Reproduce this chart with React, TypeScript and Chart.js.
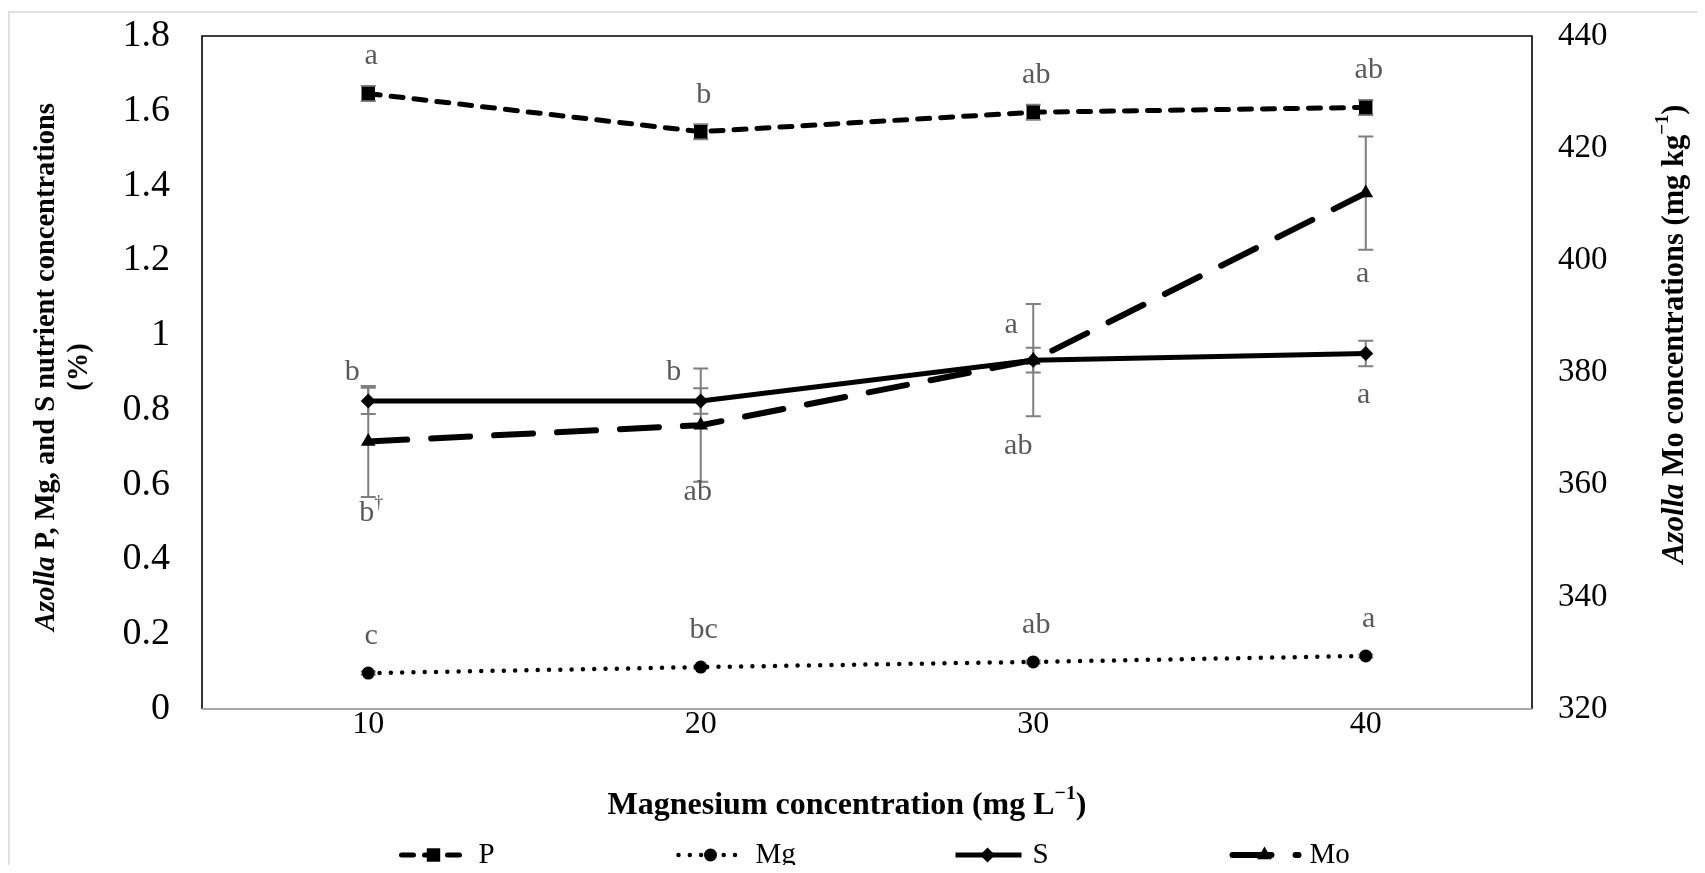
import React, { useEffect, useRef } from 'react';
import { Chart, registerables } from 'chart.js';

Chart.register(...registerables);

const FONT = "'Liberation Serif', 'Times New Roman', Times, serif";

// Mg supply levels (mg L-1)
const magnesiumLevels = ['10', '20', '30', '40'];

// Azolla tissue concentrations (%) and their standard errors
const phosphorus = [1.646, 1.544, 1.596, 1.609];
const phosphorusSe = [0.02, 0.02, 0.02, 0.02];
const magnesium = [0.096, 0.112, 0.126, 0.142];
const magnesiumSe = [0.004, 0.004, 0.004, 0.004];
const sulfur = [0.824, 0.824, 0.933, 0.951];
const sulfurSe = [0.035, 0.034, 0.033, 0.034];

// Azolla Mo concentration (mg kg-1) and standard errors
const molybdenum = [367.7, 370.6, 382.2, 412.0];
const molybdenumSe = [9.9, 10.1, 10.0, 10.1];

// Mean separation letters
const phosphorusLetters = ['a', 'b', 'ab', 'ab'];
const magnesiumLetters = ['c', 'bc', 'ab', 'a'];
const sulfurLetters = ['b', 'b', 'a', 'a'];
const molybdenumLetters = ['b†', 'ab', 'ab', 'a'];

// Axis tick values
const percentTicks = [0, 0.2, 0.4, 0.6, 0.8, 1, 1.2, 1.4, 1.6, 1.8];
const moTicks = [320, 340, 360, 380, 400, 420, 440];

const seriesNames = ['P', 'Mg', 'S', 'Mo'];
const seriesErrors = [phosphorusSe, magnesiumSe, sulfurSe, molybdenumSe];
const seriesLetters = [phosphorusLetters, magnesiumLetters, sulfurLetters, molybdenumLetters];

// Where each letter sits relative to its point (px)
const ABOVE: [number, number] = [3, -37];
const letterOffsets: [number, number][][] = [
  [ABOVE, ABOVE, ABOVE, ABOVE],
  [ABOVE, ABOVE, ABOVE, ABOVE],
  [[-16, -29], [-27, -29], [-22, -35], [-2, 42]],
  [[3, 72], [-3, 67], [-15, 86], [-3, 81]],
];

type Run = { text: string; style?: string; weight?: string; sup?: boolean };

function runFont(r: Run, size: number) {
  const s = r.sup ? size * 0.62 : size;
  return `${r.style || 'normal'} ${r.weight || 'bold'} ${s}px ${FONT}`;
}

function drawRuns(ctx: CanvasRenderingContext2D, runs: Run[], cx: number, cy: number, size: number) {
  let total = 0;
  const widths = runs.map((r) => {
    ctx.font = runFont(r, size);
    const w = ctx.measureText(r.text).width;
    total += w;
    return w;
  });
  let x = cx - total / 2;
  ctx.textAlign = 'left';
  ctx.textBaseline = 'middle';
  runs.forEach((r, i) => {
    ctx.font = runFont(r, size);
    ctx.fillText(r.text, x, cy - (r.sup ? size * 0.38 : 0));
    x += widths[i];
  });
}

function drawMarker(ctx: CanvasRenderingContext2D, style: string, x: number, y: number, r: number) {
  ctx.beginPath();
  if (style === 'rect') {
    const s = r * Math.SQRT1_2;
    ctx.rect(x - s, y - s, 2 * s, 2 * s);
  } else if (style === 'circle') {
    ctx.arc(x, y, r, 0, Math.PI * 2);
  } else if (style === 'rectRot') {
    ctx.moveTo(x - r, y);
    ctx.lineTo(x, y - r);
    ctx.lineTo(x + r, y);
    ctx.lineTo(x, y + r);
    ctx.closePath();
  } else if (style === 'triangle') {
    let rad = 0;
    ctx.moveTo(x + Math.sin(rad) * r, y - Math.cos(rad) * r);
    rad += (2 * Math.PI) / 3;
    ctx.lineTo(x + Math.sin(rad) * r, y - Math.cos(rad) * r);
    rad += (2 * Math.PI) / 3;
    ctx.lineTo(x + Math.sin(rad) * r, y - Math.cos(rad) * r);
    ctx.closePath();
  }
  ctx.fillStyle = '#000';
  ctx.fill();
}

const decorations = {
  id: 'decorations',
  beforeDatasetsDraw(chart: any) {
    const { ctx, chartArea: a } = chart;
    ctx.save();
    // outer frame
    ctx.strokeStyle = '#d6d6d6';
    ctx.lineWidth = 1.5;
    ctx.beginPath();
    ctx.moveTo(1, chart.height);
    ctx.lineTo(1, 4);
    ctx.lineTo(chart.width, 4);
    ctx.stroke();

    // plot border
    ctx.strokeStyle = '#000';
    ctx.lineWidth = 1.6;
    ctx.beginPath();
    ctx.moveTo(a.left, a.bottom);
    ctx.lineTo(a.left, a.top);
    ctx.lineTo(a.right, a.top);
    ctx.lineTo(a.right, a.bottom);
    ctx.stroke();
    ctx.strokeStyle = '#a6a6a6';
    ctx.lineWidth = 2;
    ctx.beginPath();
    ctx.moveTo(a.left, a.bottom);
    ctx.lineTo(a.right, a.bottom);
    ctx.stroke();

    // error bars
    ctx.strokeStyle = '#7f7f7f';
    ctx.lineWidth = 2;
    chart.data.datasets.forEach((ds: any, i: number) => {
      const scale = chart.scales[ds.yAxisID];
      const meta = chart.getDatasetMeta(i);
      meta.data.forEach((pt: any, j: number) => {
        const v = ds.data[j];
        const e = seriesErrors[i][j];
        const yTop = scale.getPixelForValue(v + e);
        const yBot = scale.getPixelForValue(v - e);
        const x = pt.x;
        ctx.beginPath();
        ctx.moveTo(x, yTop);
        ctx.lineTo(x, yBot);
        ctx.moveTo(x - 7.5, yTop);
        ctx.lineTo(x + 7.5, yTop);
        ctx.moveTo(x - 7.5, yBot);
        ctx.lineTo(x + 7.5, yBot);
        ctx.stroke();
      });
    });
    ctx.restore();
  },
  afterDraw(chart: any) {
    const { ctx } = chart;
    ctx.save();

    // mean separation letters
    ctx.fillStyle = '#595959';
    chart.data.datasets.forEach((_ds: any, i: number) => {
      const meta = chart.getDatasetMeta(i);
      meta.data.forEach((pt: any, j: number) => {
        const label = seriesLetters[i][j];
        const [dx, dy] = letterOffsets[i][j];
        const x = pt.x + dx;
        const y = pt.y + dy;
        ctx.textBaseline = 'middle';
        if (label.endsWith('†')) {
          const base = label.slice(0, -1);
          ctx.font = `30px ${FONT}`;
          const wb = ctx.measureText(base).width;
          ctx.font = `18px ${FONT}`;
          const wd = ctx.measureText('†').width;
          const start = x - (wb + wd) / 2;
          ctx.textAlign = 'left';
          ctx.font = `30px ${FONT}`;
          ctx.fillText(base, start, y);
          ctx.font = `18px ${FONT}`;
          ctx.fillText('†', start + wb, y - 10);
        } else {
          ctx.font = `30px ${FONT}`;
          ctx.textAlign = 'center';
          ctx.fillText(label, x, y);
        }
      });
    });

    // axis titles
    ctx.fillStyle = '#000';
    drawRuns(
      ctx,
      [{ text: 'Magnesium concentration (mg L' }, { text: '−1', sup: true }, { text: ')' }],
      839,
      798,
      32
    );
    ctx.save();
    ctx.translate(39, 359);
    ctx.rotate(-Math.PI / 2);
    drawRuns(ctx, [{ text: 'Azolla', style: 'italic' }, { text: ' P, Mg, and S nutrient concentrations' }], 0, 0, 28.5);
    ctx.restore();
    ctx.save();
    ctx.translate(72, 359);
    ctx.rotate(-Math.PI / 2);
    drawRuns(ctx, [{ text: '(%)' }], 0, 0, 28.5);
    ctx.restore();
    ctx.save();
    ctx.translate(1667, 326);
    ctx.rotate(-Math.PI / 2);
    drawRuns(
      ctx,
      [{ text: 'Azolla', style: 'italic' }, { text: ' Mo concentrations (mg kg' }, { text: '−1', sup: true }, { text: ')' }],
      0,
      0,
      30.5
    );
    ctx.restore();

    // legend
    const legendY = 847;
    const legendMid = 841;
    const legendStep = 277;
    chart.data.datasets.forEach((ds: any, i: number) => {
      const cx = legendMid + (i - 1.5) * legendStep;
      ctx.save();
      ctx.strokeStyle = '#000';
      ctx.lineWidth = ds.borderWidth;
      ctx.setLineDash(ds.borderDash || []);
      ctx.lineCap = ds.borderCapStyle || 'butt';
      ctx.beginPath();
      ctx.moveTo(cx - 32, legendY);
      ctx.lineTo(cx + 34, legendY);
      ctx.stroke();
      ctx.restore();
      drawMarker(ctx, ds.pointStyle, cx, legendY, ds.pointRadius);
      ctx.fillStyle = '#000';
      ctx.font = `29px ${FONT}`;
      ctx.textAlign = 'left';
      ctx.textBaseline = 'middle';
      ctx.fillText(seriesNames[i], cx + 45, legendY);
    });

    ctx.restore();
  },
};

const noOverflow = (s: any) => {
  s.paddingTop = 0;
  s.paddingBottom = 0;
  s.paddingLeft = 0;
  s.paddingRight = 0;
};

export default function App() {
  const canvasRef = useRef<HTMLCanvasElement | null>(null);

  useEffect(() => {
    const canvas = canvasRef.current;
    if (!canvas) return;
    const chart = new Chart(canvas, {
      type: 'line',
      data: {
        labels: magnesiumLevels,
        datasets: [
          {
            label: 'P',
            data: phosphorus,
            yAxisID: 'y',
            borderColor: '#000',
            borderWidth: 5,
            borderDash: [12, 11],
            borderCapStyle: 'round',
            pointStyle: 'rect',
            pointRadius: 9.5,
            pointBackgroundColor: '#000',
            pointBorderColor: '#000',
            pointBorderWidth: 0,
            tension: 0,
          },
          {
            label: 'Mg',
            data: magnesium,
            yAxisID: 'y',
            borderColor: '#000',
            borderWidth: 4.5,
            borderDash: [0, 11.3],
            borderCapStyle: 'round',
            pointStyle: 'circle',
            pointRadius: 6.5,
            pointBackgroundColor: '#000',
            pointBorderColor: '#000',
            pointBorderWidth: 0,
            tension: 0,
          },
          {
            label: 'S',
            data: sulfur,
            yAxisID: 'y',
            borderColor: '#000',
            borderWidth: 5,
            borderCapStyle: 'butt',
            pointStyle: 'rectRot',
            pointRadius: 7.5,
            pointBackgroundColor: '#000',
            pointBorderColor: '#000',
            pointBorderWidth: 0,
            tension: 0,
          },
          {
            label: 'Mo',
            data: molybdenum,
            yAxisID: 'y1',
            borderColor: '#000',
            borderWidth: 6,
            borderDash: [39, 24],
            borderCapStyle: 'round',
            pointStyle: 'triangle',
            pointRadius: 8.5,
            pointBackgroundColor: '#000',
            pointBorderColor: '#000',
            pointBorderWidth: 0,
            tension: 0,
          },
        ],
      },
      options: {
        responsive: false,
        animation: false,
        events: [],
        devicePixelRatio: 1,
        layout: { autoPadding: false, padding: { top: 28, left: 0, right: 0, bottom: 0 } },
        plugins: {
          legend: { display: false },
          tooltip: { enabled: false },
          title: { display: false },
        },
        scales: {
          x: {
            type: 'category',
            offset: true,
            grid: { display: false, drawTicks: false },
            border: { display: false },
            ticks: {
              color: '#000',
              font: { family: FONT, size: 32, lineHeight: 1 },
              padding: 0,
              maxRotation: 0,
              autoSkip: false,
            },
            afterFit: (s: any) => {
              s.height = 156;
              noOverflow(s);
            },
          },
          y: {
            type: 'linear',
            position: 'left',
            min: percentTicks[0],
            max: percentTicks[percentTicks.length - 1],
            grid: { display: false, drawTicks: false },
            border: { display: false },
            afterBuildTicks: (s: any) => {
              s.ticks = percentTicks.map((v) => ({ value: v }));
            },
            ticks: {
              color: '#000',
              font: { family: FONT, size: 38 },
              padding: 32,
              callback: (v: any) => String(v),
            },
            afterFit: (s: any) => {
              s.width = 194;
              noOverflow(s);
            },
          },
          y1: {
            type: 'linear',
            position: 'right',
            min: moTicks[0],
            max: moTicks[moTicks.length - 1],
            grid: { display: false, drawTicks: false },
            border: { display: false },
            afterBuildTicks: (s: any) => {
              s.ticks = moTicks.map((v) => ({ value: v }));
            },
            ticks: {
              color: '#000',
              font: { family: FONT, size: 33 },
              padding: 26,
              callback: (v: any) => String(v),
            },
            afterFit: (s: any) => {
              s.width = 165;
              noOverflow(s);
            },
          },
        },
      } as any,
      plugins: [decorations],
    });
    return () => chart.destroy();
  }, []);

  return (
    <div style={{ width: 1689, height: 857, position: 'relative' }}>
      <canvas ref={canvasRef} width={1689} height={857} style={{ display: 'block', width: 1689, height: 857 }} />
    </div>
  );
}
